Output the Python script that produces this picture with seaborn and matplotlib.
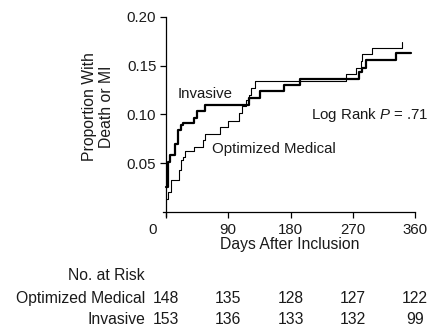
import matplotlib
matplotlib.use("Agg")
import matplotlib.pyplot as plt
import matplotlib.transforms as mtransforms
import seaborn as sns
import pandas as pd

# ---- data ----
inv_days = [0.5, 3, 6, 13, 18, 21, 24, 40, 45, 57, 120, 136, 170, 194, 279, 284, 289, 332, 354]
inv_vals = [0.025, 0.051, 0.058, 0.070, 0.084, 0.089, 0.091, 0.096, 0.103, 0.110,
            0.117, 0.124, 0.130, 0.136, 0.143, 0.148, 0.156, 0.163, 0.163]

med_days = [0.5, 3, 7, 19, 21, 24, 28, 40, 54, 57, 78, 90, 105, 110, 115, 120, 123, 129,
            260, 274, 282, 284, 298, 341]
med_vals = [0.013, 0.020, 0.033, 0.043, 0.053, 0.056, 0.062, 0.067, 0.074, 0.080, 0.087,
            0.093, 0.101, 0.109, 0.115, 0.120, 0.127, 0.134, 0.141, 0.148, 0.155, 0.162,
            0.168, 0.174]

x_ticks = [0, 90, 180, 270, 360]
y_ticks = [0.05, 0.10, 0.15, 0.20]
risk_days = [0, 90, 180, 270, 360]
risk_med = [148, 135, 128, 127, 122]
risk_inv = [153, 136, 133, 132, 99]

sns.set_theme(style="white")
plt.rcParams['font.family'] = ['Liberation Sans', 'DejaVu Sans']
plt.rcParams['mathtext.fontset'] = 'custom'
plt.rcParams['mathtext.rm'] = 'Liberation Sans'
plt.rcParams['mathtext.it'] = 'Liberation Sans:italic'

TXT = '#1a1a1a'
fig = plt.figure(figsize=(4.37, 3.29), dpi=100)
ax = fig.add_axes([0.3735, 0.3444, 0.5762, 0.604])

df_inv = pd.DataFrame({'day': inv_days, 'p': inv_vals})
df_med = pd.DataFrame({'day': med_days, 'p': med_vals})
sns.lineplot(data=df_med, x='day', y='p', ax=ax, color='black', linewidth=0.8,
             drawstyle='steps-post', estimator=None)
sns.lineplot(data=df_inv, x='day', y='p', ax=ax, color='black', linewidth=1.6,
             drawstyle='steps-post', estimator=None)

ax.set_xlim(-4, 360)
ax.set_ylim(-0.004, 0.2)
ax.spines['top'].set_visible(False)
ax.spines['right'].set_visible(False)
ax.spines['left'].set_position(('data', 0))
ax.spines['bottom'].set_position(('data', 0))
for s in ('left', 'bottom'):
    ax.spines[s].set_color('black')
    ax.spines[s].set_linewidth(0.9)

ax.set_xticks(x_ticks)
ax.set_xticklabels([str(t) for t in x_ticks])
ax.set_yticks(y_ticks)
ax.set_yticklabels([f"{t:.2f}" for t in y_ticks])
ax.tick_params(axis='both', which='major', direction='out', length=4, width=0.9,
               color='black', labelsize=10.8, labelcolor=TXT, pad=3)
ax.tick_params(axis='x', pad=4)
ax.tick_params(left=True, bottom=True)
ax.set_xlabel('')
ax.set_ylabel('')

# shift "0" label to the left of the axes crossing
lab0 = ax.get_xticklabels()[0]
lab0.set_transform(lab0.get_transform() + mtransforms.ScaledTranslation(-13 / 100, 0, fig.dpi_scale_trans))

# in-plot annotations
ax.text(17.4, 0.121, 'Invasive', fontsize=10.8, color=TXT, ha='left', va='center')
ax.text(66.8, 0.0648, 'Optimized Medical', fontsize=10.8, color=TXT, ha='left', va='center')
ax.text(210, 0.099, 'Log Rank $P$ = .71', fontsize=10.8, color=TXT, ha='left', va='center')

# axis labels
fig.text(98 / 437, 1 - 107 / 329, 'Proportion With\nDeath or MI', rotation=90,
         ha='center', va='center', multialignment='center', fontsize=11.3,
         color=TXT, linespacing=1.12)
fig.text(290 / 437, 1 - 249 / 329, 'Days After Inclusion', ha='center', va='baseline',
         fontsize=11.3, color=TXT)

# number at risk table
trans = mtransforms.blended_transform_factory(ax.transData, fig.transFigure)
fig.text(145 / 437, 1 - 280 / 329, 'No. at Risk', ha='right', va='baseline',
         fontsize=11.3, color=TXT)
fig.text(145 / 437, 1 - 303 / 329, 'Optimized Medical', ha='right', va='baseline',
         fontsize=11.3, color=TXT)
fig.text(145 / 437, 1 - 324.5 / 329, 'Invasive', ha='right', va='baseline',
         fontsize=11.3, color=TXT)
for d, n in zip(risk_days, risk_med):
    ax.text(d, 1 - 303 / 329, str(n), transform=trans, ha='center', va='baseline',
            fontsize=11.3, color=TXT)
for d, n in zip(risk_days, risk_inv):
    ax.text(d, 1 - 324.5 / 329, str(n), transform=trans, ha='center', va='baseline',
            fontsize=11.3, color=TXT)

fig.savefig('out.png', dpi=100)
